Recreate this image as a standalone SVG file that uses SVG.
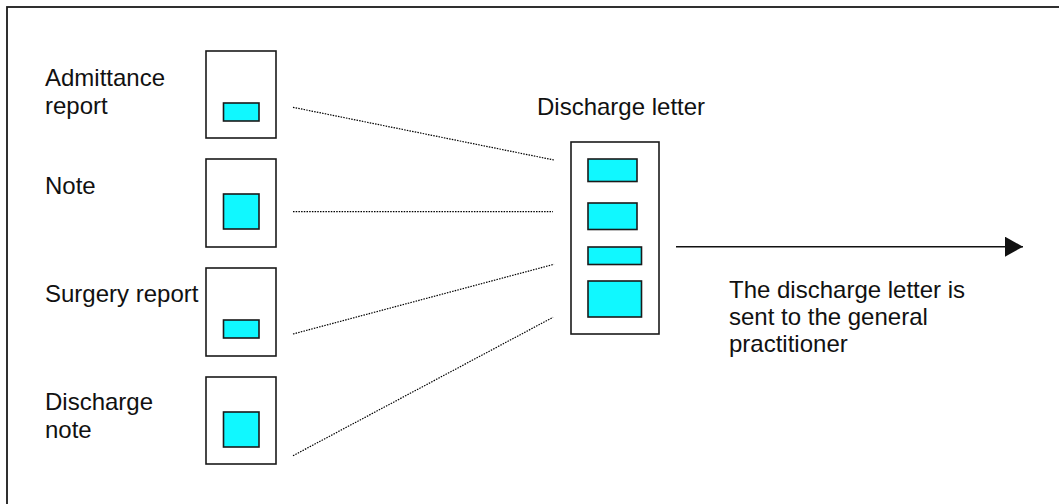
<svg xmlns="http://www.w3.org/2000/svg" width="1059" height="504" viewBox="0 0 1059 504">
<style>
.t{font-family:"Liberation Sans",Arial,sans-serif;font-size:24px;fill:#111}
.doc{fill:#fff;stroke:#1a1a1a;stroke-width:1.6}
.part{fill:#10f8ff;stroke:#1a1a1a;stroke-width:1.6}
.dot{stroke:#000;stroke-width:1.2;stroke-dasharray:1.5 1.2;fill:none}
</style>
<defs>
<marker id="ah" markerWidth="18" markerHeight="20" refX="18" refY="10" orient="auto" markerUnits="userSpaceOnUse">
<path d="M0,0 L18,10 L0,20 Z" fill="#111"/>
</marker>
</defs>
<rect width="1059" height="504" fill="#fff"/>
<rect x="7" y="7" width="1070" height="520" fill="none" stroke="#1a1a1a" stroke-width="1.8"/>
<g id="admittance">
<text class="t" x="45" y="86">Admittance</text>
<text class="t" x="45" y="114">report</text>
<rect class="doc" x="206" y="51" width="70" height="87"/>
<rect class="part" x="223.5" y="103" width="35.5" height="18"/>
</g>
<g id="note">
<text class="t" x="45" y="194">Note</text>
<rect class="doc" x="206" y="159" width="70" height="88"/>
<rect class="part" x="223.5" y="194" width="35.5" height="35"/>
</g>
<g id="surgery">
<text class="t" x="45" y="302">Surgery report</text>
<rect class="doc" x="206" y="268" width="70" height="88"/>
<rect class="part" x="223.5" y="320" width="35.5" height="18"/>
</g>
<g id="dischargenote">
<text class="t" x="45" y="410">Discharge</text>
<text class="t" x="45" y="437.5">note</text>
<rect class="doc" x="206" y="377" width="70" height="87"/>
<rect class="part" x="223.5" y="412" width="35.5" height="35"/>
</g>
<g id="letter">
<text class="t" x="537" y="115">Discharge letter</text>
<rect class="doc" x="571" y="142" width="88" height="192"/>
<rect class="part" x="588" y="159" width="49" height="22.5"/>
<rect class="part" x="588" y="203" width="49" height="26.5"/>
<rect class="part" x="588" y="247" width="53.5" height="17.5"/>
<rect class="part" x="588" y="281" width="53.5" height="36"/>
</g>
<g id="sent">
<text class="t" x="729" y="298">The discharge letter is</text>
<text class="t" x="729" y="325">sent to the general</text>
<text class="t" x="729" y="351.5">practitioner</text>
</g>
<g id="connectors">
<line class="dot" x1="293" y1="107.3" x2="554" y2="160"/>
<line class="dot" x1="293" y1="211.7" x2="553" y2="211.7"/>
<line class="dot" x1="293" y1="334" x2="554" y2="264.3"/>
<line class="dot" x1="293" y1="455.7" x2="553" y2="317.3"/>
<line x1="676" y1="246.7" x2="1023" y2="246.7" stroke="#111" stroke-width="1.6" marker-end="url(#ah)"/>
</g>
</svg>
